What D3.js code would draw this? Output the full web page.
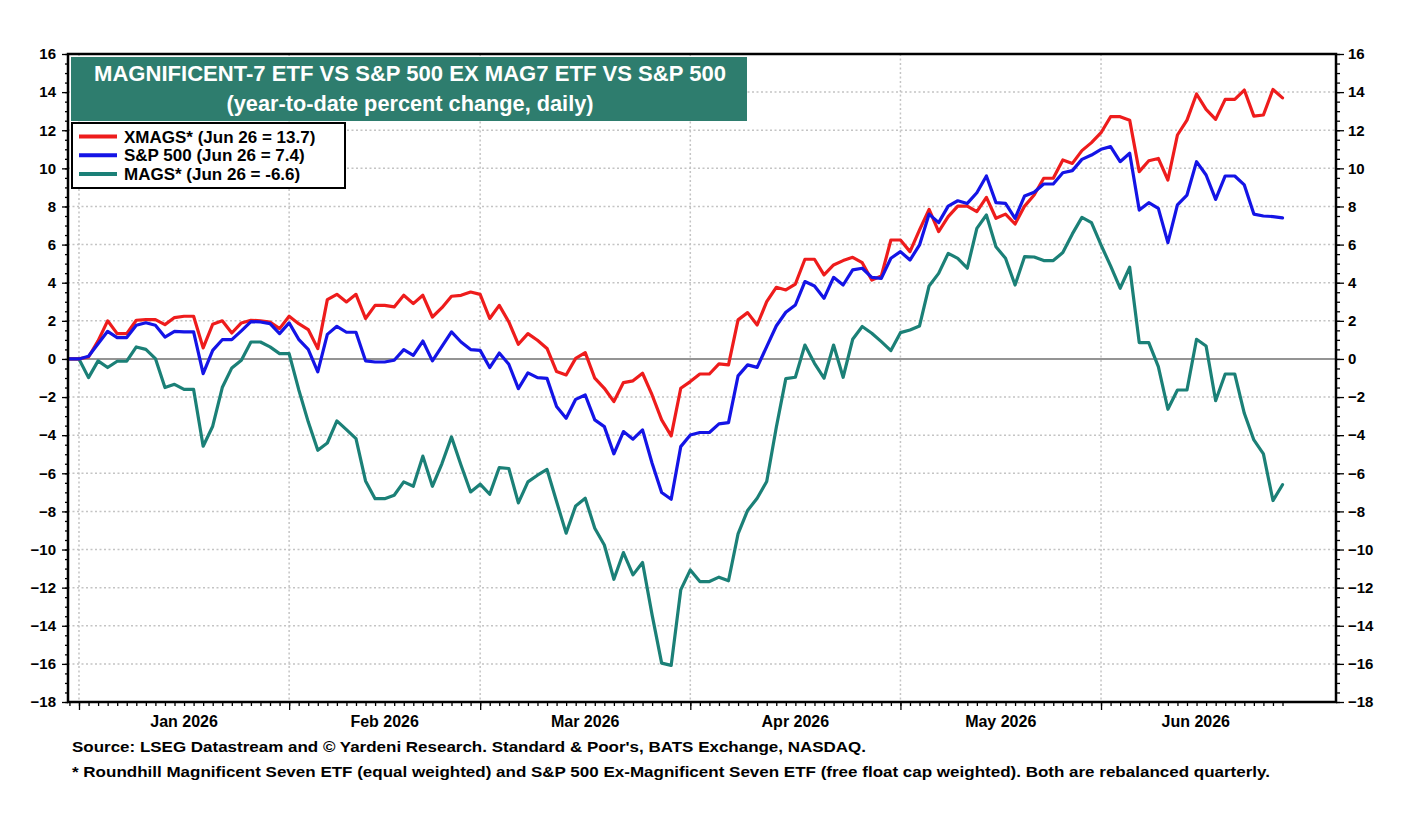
<!DOCTYPE html>
<html><head><meta charset="utf-8">
<script src="https://cdn.jsdelivr.net/npm/d3@7"></script>
<style>
body{margin:0;background:#fff;}
text{font-family:"Liberation Sans",Arial,Helvetica,sans-serif;font-weight:bold;}
</style>
</head><body>
<svg id="chart" width="1406" height="813"></svg>
<script>
// ---------------- DATA ----------------
// Daily series (weekday calendar, holidays carry previous value), Dec 31 2025 .. Jun 26 2026
const startDate = "2025-12-31";
const endDate = "2026-06-26";
const xmags = [0,0,0.1,0.95,2.0,1.33,1.33,2.03,2.06,2.06,1.8,2.17,2.24,2.24,0.58,1.82,2.0,1.36,1.89,2.03,2.0,1.94,1.59,2.24,1.85,1.54,0.54,3.11,3.39,2.99,3.39,2.12,2.81,2.81,2.73,3.34,2.9,3.34,2.2,2.69,3.29,3.34,3.51,3.39,2.12,2.81,1.94,0.77,1.33,0.98,0.55,-0.66,-0.84,0.03,0.33,-1.01,-1.54,-2.24,-1.24,-1.15,-0.75,-1.89,-3.2,-4.04,-1.54,-1.19,-0.79,-0.79,-0.26,-0.31,2.05,2.43,1.78,3.01,3.76,3.62,3.93,5.23,5.23,4.41,4.93,5.16,5.33,5.05,4.14,4.35,6.24,6.24,5.63,6.77,7.85,6.68,7.47,8.02,8.02,7.73,8.48,7.38,7.6,7.08,8.02,8.6,9.48,9.48,10.44,10.26,10.93,11.35,11.87,12.71,12.71,12.53,9.83,10.4,10.52,9.39,11.75,12.53,13.9,13.09,12.57,13.62,13.62,14.11,12.74,12.8,14.14,13.7];
const sp500 = [0,0,0.14,0.8,1.45,1.12,1.12,1.77,1.9,1.77,1.15,1.45,1.42,1.42,-0.77,0.45,1.01,1.01,1.47,1.96,1.94,1.85,1.33,1.89,1.03,0.5,-0.68,1.29,1.71,1.4,1.4,-0.1,-0.16,-0.16,-0.07,0.49,0.19,0.94,-0.1,0.66,1.42,0.89,0.49,0.45,-0.45,0.31,-0.28,-1.56,-0.73,-0.98,-1.02,-2.5,-3.11,-2.12,-1.89,-3.2,-3.55,-4.98,-3.81,-4.21,-3.72,-5.47,-7.01,-7.36,-4.6,-3.99,-3.86,-3.86,-3.41,-3.34,-0.89,-0.31,-0.44,0.65,1.73,2.45,2.83,4.06,3.83,3.18,4.28,3.88,4.67,4.76,4.28,4.23,5.28,5.63,5.19,5.98,7.6,7.15,8.02,8.3,8.16,8.72,9.6,8.2,8.16,7.38,8.55,8.75,9.18,9.18,9.77,9.88,10.47,10.7,11.0,11.14,10.35,10.79,7.81,8.2,7.9,6.1,8.08,8.6,10.35,9.65,8.37,9.6,9.6,9.13,7.6,7.5,7.47,7.4];
const mags = [0,0,-0.98,-0.1,-0.45,-0.12,-0.12,0.63,0.5,0.02,-1.5,-1.33,-1.6,-1.6,-4.58,-3.53,-1.5,-0.47,-0.07,0.89,0.89,0.63,0.28,0.28,-1.6,-3.3,-4.79,-4.41,-3.25,-3.71,-4.18,-6.4,-7.33,-7.33,-7.15,-6.45,-6.68,-5.1,-6.68,-5.49,-4.09,-5.58,-6.98,-6.57,-7.1,-5.7,-5.75,-7.55,-6.45,-6.1,-5.8,-7.48,-9.14,-7.71,-7.31,-8.88,-9.76,-11.56,-10.16,-11.33,-10.68,-13.43,-15.96,-16.08,-12.12,-11.07,-11.68,-11.68,-11.45,-11.64,-9.18,-7.95,-7.31,-6.43,-3.6,-1.03,-0.96,0.73,-0.23,-1.01,0.73,-0.96,1.03,1.7,1.35,0.91,0.44,1.38,1.52,1.73,3.83,4.49,5.54,5.28,4.76,6.85,7.55,5.89,5.28,3.88,5.37,5.35,5.16,5.16,5.58,6.56,7.43,7.15,5.98,4.88,3.71,4.81,0.86,0.86,-0.4,-2.64,-1.63,-1.63,1.03,0.68,-2.19,-0.79,-0.79,-2.85,-4.25,-4.98,-7.43,-6.6];
const seriesNames = ["XMAGS* (Jun 26 = 13.7)", "S&P 500 (Jun 26 = 7.4)", "MAGS* (Jun 26 = -6.6)"];
const seriesColors = ["#ee1c1c", "#1414e6", "#1b8077"];
const yTickValues = [-18,-16,-14,-12,-10,-8,-6,-4,-2,0,2,4,6,8,10,12,14,16];
const monthLabels = ["Jan 2026","Feb 2026","Mar 2026","Apr 2026","May 2026","Jun 2026"];
const titleLines = ["MAGNIFICENT-7 ETF VS S&P 500 EX MAG7 ETF VS S&P 500", "(year-to-date percent change, daily)"];
const footnotes = ["Source: LSEG Datastream and \u00A9 Yardeni Research. Standard & Poor's, BATS Exchange, NASDAQ.",
  "* Roundhill Magnificent Seven ETF (equal weighted) and S&P 500 Ex-Magnificent Seven ETF (free float cap weighted). Both are rebalanced quarterly."];

// ---------------- CHART ----------------
const parse = d3.timeParse("%Y-%m-%d");
const dates = d3.timeDay.range(parse(startDate), d3.timeDay.offset(parse(endDate), 1))
  .filter(d => d.getDay() !== 0 && d.getDay() !== 6);

const L = 68, R = 1336, T = 54, B = 702;
const svg = d3.select("#chart");

const x = d3.scaleLinear().domain([-0.15, 132.6]).range([L, R]);
const y = d3.scaleLinear().domain([-18, 16]).range([B, T]);

// month starts (first weekday of each month in the data)
const monthStarts = [];
dates.forEach((d, i) => { if (i > 0 && d.getMonth() !== dates[i-1].getMonth()) monthStarts.push(i); });
const lastIdx = dates.length - 1;

// grid
const grid = svg.append("g");
grid.selectAll("line.h").data(yTickValues.filter(v => v !== 0 && v !== 16 && v !== -18)).join("line")
  .attr("x1", L).attr("x2", R).attr("y1", d => y(d)).attr("y2", d => y(d))
  .attr("stroke", "#c4c4c4").attr("stroke-width", 1.5).attr("stroke-dasharray", "2,2.5");
grid.selectAll("line.v").data(monthStarts).join("line")
  .attr("x1", d => x(d)).attr("x2", d => x(d)).attr("y1", T).attr("y2", B)
  .attr("stroke", "#c4c4c4").attr("stroke-width", 1.5).attr("stroke-dasharray", "2,2.5");
svg.append("line").attr("x1", L).attr("x2", R).attr("y1", y(0)).attr("y2", y(0))
  .attr("stroke", "#707070").attr("stroke-width", 1.6);

// series lines
const line = d3.line().x((d, i) => x(i)).y(d => y(d));
const seriesData = [mags, xmags, sp500];
const seriesCol = [seriesColors[2], seriesColors[0], seriesColors[1]];
svg.append("g").selectAll("path").data(seriesData).join("path")
  .attr("d", d => line(d)).attr("fill", "none")
  .attr("stroke", (d, i) => seriesCol[i]).attr("stroke-width", 3.2)
  .attr("stroke-linejoin", "round").attr("stroke-linecap", "round");

// frame
svg.append("rect").attr("x", L).attr("y", T).attr("width", R - L).attr("height", B - T)
  .attr("fill", "none").attr("stroke", "#000").attr("stroke-width", 2.5);

// y axes: minor ticks every 0.5, major every 2
const minorY = d3.range(-18, 16.01, 0.5);
const axL = svg.append("g").attr("transform", `translate(${L},0)`)
  .call(d3.axisLeft(y).tickValues(minorY).tickSize(3).tickFormat(""));
const axL2 = svg.append("g").attr("transform", `translate(${L},0)`)
  .call(d3.axisLeft(y).tickValues(yTickValues).tickSize(6).tickPadding(6).tickFormat(d3.format("d")));
const axR = svg.append("g").attr("transform", `translate(${R},0)`)
  .call(d3.axisRight(y).tickValues(minorY).tickSize(4).tickFormat(""));
const axR2 = svg.append("g").attr("transform", `translate(${R},0)`)
  .call(d3.axisRight(y).tickValues(yTickValues).tickSize(8).tickPadding(4).tickFormat(d3.format("d")));

// x axis: a tick each day, longer tick at month starts
const axB = svg.append("g").attr("transform", `translate(0,${B})`)
  .call(d3.axisBottom(x).tickValues(d3.range(0, dates.length)).tickSize(4).tickFormat(""));
const axB2 = svg.append("g").attr("transform", `translate(0,${B})`)
  .call(d3.axisBottom(x).tickValues(monthStarts).tickSize(8).tickFormat(""));

[axL, axL2, axR, axR2, axB, axB2].forEach(g => {
  g.select(".domain").remove();
  g.selectAll(".tick line").attr("stroke", "#000").attr("stroke-width", 1.3);
  g.selectAll("text").attr("fill", "#000").style("font-size", "15px")
   .style("font-family", '"Liberation Sans",Arial,sans-serif').style("font-weight", "bold");
});

// month labels
const bounds = monthStarts.concat([lastIdx]);
svg.append("g").selectAll("text").data(monthLabels).join("text")
  .attr("x", (d, i) => (x(bounds[i]) + x(bounds[i+1])) / 2 + (i === monthLabels.length - 1 ? 4 : 0))
  .attr("y", 727).attr("text-anchor", "middle").style("font-size", "16px").attr("fill", "#000")
  .text(d => d);

// title box
svg.append("rect").attr("x", 71).attr("y", 57).attr("width", 676).attr("height", 64).attr("fill", "#2e7d6e");
svg.append("g").selectAll("text").data(titleLines).join("text")
  .attr("x", 410).attr("y", (d, i) => 81 + i * 30).attr("text-anchor", "middle")
  .attr("fill", "#fff").style("font-size", "22px")
  .attr("textLength", (d, i) => i === 0 ? 632 : 367).attr("lengthAdjust", "spacingAndGlyphs")
  .text(d => d);

// legend
const lg = svg.append("g");
lg.append("rect").attr("x", 72).attr("y", 123).attr("width", 273).attr("height", 65)
  .attr("fill", "#fff").attr("stroke", "#000").attr("stroke-width", 2);
const rows = lg.selectAll("g.row").data(seriesNames).join("g")
  .attr("transform", (d, i) => `translate(0,${136.5 + i * 18.7})`);
rows.append("line").attr("x1", 79).attr("x2", 117).attr("y1", 0).attr("y2", 0)
  .attr("stroke", (d, i) => seriesColors[i]).attr("stroke-width", 4);
rows.append("text").attr("x", 124).attr("y", 6).style("font-size", "17px").attr("fill", "#000")
  .text(d => d);

// footnotes
svg.append("g").selectAll("text").data(footnotes).join("text")
  .attr("x", 72).attr("y", (d, i) => 752 + i * 25).style("font-size", "15px").attr("fill", "#000")
  .attr("textLength", (d, i) => i === 0 ? 794 : 1198).attr("lengthAdjust", "spacingAndGlyphs")
  .text(d => d);
</script>
</body></html>
